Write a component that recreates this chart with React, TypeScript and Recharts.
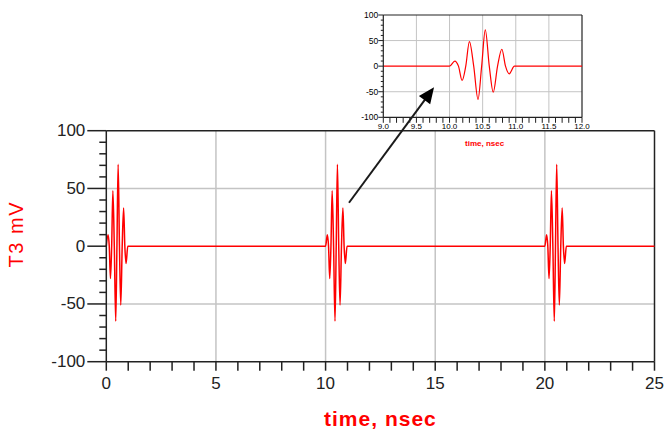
import React from 'react';
import { LineChart, Line, XAxis, YAxis, CartesianGrid, ReferenceLine, Label } from 'recharts';

// Pulse shape (offset from pulse start in ns, value in mV)
const pulseOffsets = [0, 0.08, 0.135, 0.19, 0.245, 0.3, 0.365, 0.43, 0.485, 0.54, 0.6, 0.66, 0.725, 0.79, 0.845, 0.9, 0.98];
const pulseValues = [0, 10, 0, -28, 0, 48, 0, -65, 0, 71, 0, -51, 0, 33, 0, -15, 0];

const mainPulseStarts = [0, 10, 20];
const mainRange = [0, 25];
const insetPulseStarts = [10];
const insetRange = [9, 12];

const mainXTicks = [0, 1, 2, 3, 4, 5, 6, 7, 8, 9, 10, 11, 12, 13, 14, 15, 16, 17, 18, 19, 20, 21, 22, 23, 24, 25];
const mainXLabelled = [0, 5, 10, 15, 20, 25];
const mainYTicks = [-100, -90, -80, -70, -60, -50, -40, -30, -20, -10, 0, 10, 20, 30, 40, 50, 60, 70, 80, 90, 100];
const mainYLabelled = [-100, -50, 0, 50, 100];
const mainGridX = [5, 10, 15, 20];
const mainGridY = [50, -50];

const insetXTicks = [9.0, 9.1, 9.2, 9.3, 9.4, 9.5, 9.6, 9.7, 9.8, 9.9, 10.0, 10.1, 10.2, 10.3, 10.4, 10.5, 10.6, 10.7, 10.8, 10.9, 11.0, 11.1, 11.2, 11.3, 11.4, 11.5, 11.6, 11.7, 11.8, 11.9, 12.0];
const insetXLabelled = [9.0, 9.5, 10.0, 10.5, 11.0, 11.5, 12.0];
const insetYTicks = mainYTicks;
const insetYLabelled = mainYLabelled;
const insetGridX = [9.5, 10.0, 10.5, 11.0, 11.5];
const insetGridY = [50, -50];

// annotation arrow, in inset data units
const arrowSegment = [
  { x: 8.482, y: -267 },
  { x: 9.766, y: -41.3 },
];

const xLabel = 'time, nsec';
const yLabel = 'T3 mV';

function buildSeries(starts: number[], range: number[]) {
  const pts: { t: number; v: number }[] = [{ t: range[0], v: 0 }];
  starts.forEach((s) => {
    pulseOffsets.forEach((o, i) => {
      pts.push({ t: Math.round((s + o) * 1000) / 1000, v: pulseValues[i] });
    });
  });
  pts.push({ t: range[1], v: 0 });
  pts.sort((a, b) => a.t - b.t);
  const out: { t: number; v: number }[] = [];
  pts.forEach((p) => {
    if (!out.length || Math.abs(out[out.length - 1].t - p.t) > 1e-9) out.push(p);
  });
  return out;
}

const mainData = buildSeries(mainPulseStarts, mainRange);
const insetData = buildSeries(insetPulseStarts, insetRange);

const FONT = '"Liberation Sans", Arial, sans-serif';
const AX = '#222';
const GRID = '#c4c4c4';
const RED = '#ff0000';

const isIn = (arr: number[], v: number) => arr.some((a) => Math.abs(a - v) < 1e-6);

const MainYTick = (props: any) => {
  const { x, y, payload } = props;
  const v = payload.value;
  const major = isIn(mainYLabelled, v);
  return (
    <g>
      <line x1={x - (major ? 19 : 7)} x2={x} y1={y} y2={y} stroke={AX} strokeWidth={1.5} />
      {major && (
        <text x={x - 21} y={y} textAnchor="end" dominantBaseline="central" fontSize={17} fill={AX} fontFamily={FONT}>
          {v}
        </text>
      )}
    </g>
  );
};

const MainXTick = (props: any) => {
  const { x, y, payload } = props;
  const v = payload.value;
  const major = isIn(mainXLabelled, v);
  return (
    <g>
      <line x1={x} x2={x} y1={y} y2={y + 9} stroke={AX} strokeWidth={1.5} />
      {major && (
        <text x={x} y={y + 22} textAnchor="middle" dominantBaseline="central" fontSize={17} fill={AX} fontFamily={FONT}>
          {v}
        </text>
      )}
    </g>
  );
};

const InsetYTick = (props: any) => {
  const { x, y, payload } = props;
  const v = payload.value;
  const major = isIn(insetYLabelled, v);
  return (
    <g>
      <line x1={x - (major ? 5 : 2.5)} x2={x} y1={y} y2={y} stroke={AX} strokeWidth={1} />
      {major && (
        <text x={x - 5} y={y} textAnchor="end" dominantBaseline="central" fontSize={8.5} fill="#000" fontFamily={FONT}>
          {v}
        </text>
      )}
    </g>
  );
};

const InsetXTick = (props: any) => {
  const { x, y, payload } = props;
  const v = payload.value;
  const major = isIn(insetXLabelled, v);
  return (
    <g>
      <line x1={x} x2={x} y1={y} y2={y + 5.5} stroke={AX} strokeWidth={1} />
      {major && (
        <text x={x} y={y + 9.5} textAnchor="middle" dominantBaseline="central" fontSize={8} fill="#000" fontFamily={FONT}>
          {v.toFixed(1)}
        </text>
      )}
    </g>
  );
};

const ArrowShape = (props: any) => {
  const { x1, y1, x2, y2 } = props;
  if ([x1, y1, x2, y2].some((n) => typeof n !== 'number' || isNaN(n))) return null;
  const ang = Math.atan2(y2 - y1, x2 - x1);
  const L = 16;
  const W = 7;
  const c = Math.cos(ang);
  const s = Math.sin(ang);
  const bx = x2 - L * c;
  const by = y2 - L * s;
  const pts = `${x2},${y2} ${bx - W * s},${by + W * c} ${bx + W * s},${by - W * c}`;
  return (
    <g>
      <line x1={x1} y1={y1} x2={bx + 2 * c} y2={by + 2 * s} stroke="#1a1a1a" strokeWidth={2} />
      <polygon points={pts} fill="#000" />
    </g>
  );
};

export default function App() {
  const W = 664;
  const H = 431;
  return (
    <div style={{ position: 'absolute', left: 0, top: 0, width: W, height: H, background: '#fff' }}>
      <div style={{ position: 'absolute', left: 0, top: 0 }}>
        <LineChart width={W} height={H} data={mainData} margin={{ top: 130.7, right: 9.5, bottom: 0, left: 0 }}>
          <CartesianGrid horizontalValues={mainGridY} verticalValues={mainGridX} stroke={GRID} strokeWidth={1.5} />
          <XAxis
            dataKey="t"
            type="number"
            domain={mainRange}
            ticks={mainXTicks}
            interval={0}
            height={69.3}
            tickSize={0}
            tickMargin={0}
            tick={<MainXTick />}
            tickLine={false}
            axisLine={{ stroke: AX, strokeWidth: 1.5 }}
          >
            <Label
              content={(p: any) => {
                const vb = p.viewBox || {};
                return (
                  <text
                    x={vb.x + vb.width / 2}
                    y={vb.y + 56.5}
                    textAnchor="middle"
                    dominantBaseline="central"
                    fontSize={21}
                    fontWeight="bold"
                    letterSpacing={1}
                    fill={RED}
                    fontFamily={FONT}
                  >
                    {xLabel}
                  </text>
                );
              }}
            />
          </XAxis>
          <YAxis
            type="number"
            domain={[-100, 100]}
            ticks={mainYTicks}
            interval={0}
            width={106.3}
            tickSize={0}
            tickMargin={0}
            tick={<MainYTick />}
            tickLine={false}
            axisLine={{ stroke: AX, strokeWidth: 1.5 }}
          >
            <Label
              content={(p: any) => {
                const vb = p.viewBox || {};
                const cx = vb.x + 16.5;
                const cy = vb.y + vb.height / 2 - 12;
                return (
                  <text
                    x={cx}
                    y={cy}
                    transform={`rotate(-90 ${cx} ${cy})`}
                    textAnchor="middle"
                    dominantBaseline="central"
                    fontSize={20}
                    letterSpacing={1.5}
                    fill={RED}
                    fontFamily={FONT}
                  >
                    {yLabel}
                  </text>
                );
              }}
            />
          </YAxis>
          <ReferenceLine y={100} stroke={AX} strokeWidth={1.5} />
          <ReferenceLine x={25} stroke={AX} strokeWidth={1.5} />
          <Line dataKey="v" type="monotone" stroke={RED} strokeWidth={1.5} dot={false} isAnimationActive={false} />
        </LineChart>
      </div>
      <div style={{ position: 'absolute', left: 0, top: 0 }}>
        <LineChart width={W} height={H} data={insetData} margin={{ top: 15, right: 82, bottom: 0, left: 0 }}>
          <CartesianGrid horizontalValues={insetGridY} verticalValues={insetGridX} stroke={GRID} strokeWidth={1} />
          <XAxis
            dataKey="t"
            type="number"
            domain={insetRange}
            ticks={insetXTicks}
            interval={0}
            height={313.7}
            tickSize={0}
            tickMargin={0}
            tick={<InsetXTick />}
            tickLine={false}
            axisLine={{ stroke: AX, strokeWidth: 1.2 }}
          >
            <Label
              content={(p: any) => {
                const vb = p.viewBox || {};
                return (
                  <text
                    x={vb.x + vb.width / 2 + 2}
                    y={vb.y + 26}
                    textAnchor="middle"
                    dominantBaseline="central"
                    fontSize={8}
                    fontWeight="bold"
                    fill={RED}
                    fontFamily={FONT}
                  >
                    {xLabel}
                  </text>
                );
              }}
            />
          </XAxis>
          <YAxis
            type="number"
            domain={[-100, 100]}
            ticks={insetYTicks}
            interval={0}
            width={383.3}
            tickSize={0}
            tickMargin={0}
            tick={<InsetYTick />}
            tickLine={false}
            axisLine={{ stroke: AX, strokeWidth: 1.2 }}
          />
          <ReferenceLine y={100} stroke={AX} strokeWidth={1.2} />
          <ReferenceLine x={12} stroke={AX} strokeWidth={1.2} />
          <Line dataKey="v" type="monotone" stroke={RED} strokeWidth={1.2} dot={false} isAnimationActive={false} />
          <ReferenceLine segment={arrowSegment} ifOverflow="visible" shape={<ArrowShape />} />
        </LineChart>
      </div>
    </div>
  );
}
